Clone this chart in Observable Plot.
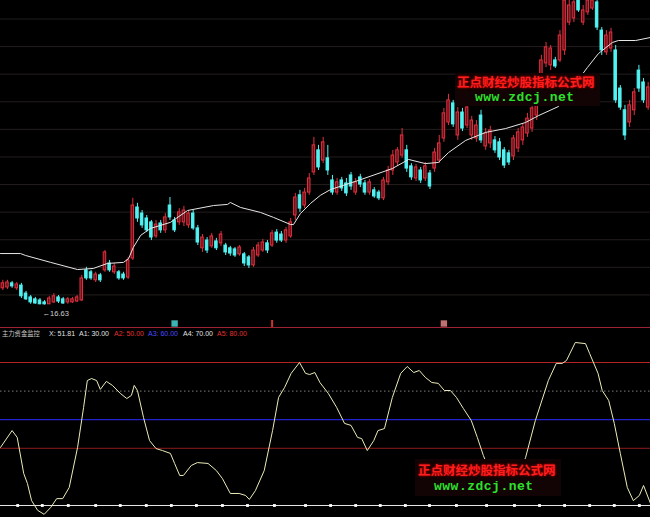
<!DOCTYPE html>
<html lang="zh">
<head>
<meta charset="utf-8">
<title>主力资金监控</title>
<script src="https://cdn.jsdelivr.net/npm/d3@7"></script>
<script src="https://cdn.jsdelivr.net/npm/@observablehq/plot@0.6"></script>
<style>
html,body{margin:0;padding:0;background:#000;overflow:hidden;}
#wrap{position:relative;width:650px;height:517px;background:#000;overflow:hidden;}
#top{position:absolute;left:0;top:0;width:650px;height:327px;}
#bot{position:absolute;left:0;top:327px;width:650px;height:190px;}
#divider{position:absolute;left:0;top:327px;width:650px;height:1px;background:#9c2234;}
.leg{position:absolute;top:329px;height:9px;line-height:9px;font-family:"Liberation Sans","DejaVu Sans",sans-serif;font-size:7px;white-space:nowrap;}
.leg.cjk{font-family:"Noto Sans CJK SC",sans-serif;font-size:6.3px;}
.wmbox{position:absolute;background:#120404;}
.wmred{position:absolute;font-family:"Noto Sans CJK SC",sans-serif;font-weight:700;font-size:12.5px;line-height:14px;height:14px;color:#ff1e1e;text-shadow:0 0 2px #b00000,0 0 3px #700000;white-space:nowrap;}
.wmgreen{position:absolute;font-family:"Liberation Mono","DejaVu Sans Mono",monospace;font-weight:700;font-size:13px;letter-spacing:0.5px;line-height:11px;height:11px;color:#2ee02e;white-space:nowrap;}
svg{display:block;}
</style>
</head>
<body>
<div id="wrap">
  <div id="top"></div>
  <div id="bot"></div>
  <div id="divider"></div>
</div>
<script>
// ---------- data ----------
const open = [17.24,17.27,17.42,17.24,17.34,17.05,16.91,16.84,16.80,16.73,
16.66,16.73,16.91,16.84,16.73,16.73,16.76,16.80,17.89,17.82,
17.53,17.71,17.89,18.14,17.82,17.82,17.74,17.63,18.32,20.17,
19.95,19.77,19.63,19.12,19.59,19.34,20.24,19.70,19.63,19.63,
19.52,19.95,19.41,18.69,18.97,18.76,18.94,18.87,18.79,18.69,
18.65,18.47,18.47,18.36,18.07,18.43,18.61,18.87,18.79,19.26,
19.19,18.97,19.12,19.88,20.61,20.24,20.71,21.44,22.24,21.87,
21.95,21.15,20.71,21.15,21.04,21.33,20.71,21.26,21.04,20.71,
20.79,20.71,20.50,21.08,21.51,21.80,22.05,22.24,21.66,21.22,
21.51,21.22,21.40,21.58,21.87,22.67,23.25,23.94,22.78,23.61,
23.14,22.78,22.67,23.50,22.38,22.49,22.60,22.53,22.24,22.13,
22.02,22.31,22.60,22.85,23.03,23.50,24.23,25.39,25.32,25.50,
25.50,25.86,26.87,27.02,27.67,26.87,27.24,27.38,27.60,26.58,
25.79,25.93,25.86,24.48,23.69,23.25,23.69,25.13,24.70,23.79];
const high = [17.53,17.53,17.49,17.45,17.42,17.13,16.98,16.91,16.87,16.80,
16.95,17.05,16.98,16.91,16.91,16.91,16.98,17.71,18.00,17.89,
17.82,17.78,18.61,18.25,18.14,17.89,17.82,18.36,20.50,20.32,
20.06,19.88,19.70,19.70,19.70,19.95,20.53,19.81,20.13,20.21,
20.06,20.06,19.52,19.19,19.08,19.23,19.05,19.30,18.87,18.76,
18.72,18.79,18.54,18.43,18.72,18.90,19.01,18.97,19.34,19.37,
19.30,19.45,19.77,20.68,20.79,20.86,21.40,22.71,22.42,22.71,
22.42,21.33,21.22,21.26,21.22,21.44,21.22,21.37,21.15,21.18,
20.89,20.79,21.26,21.66,22.24,22.34,23.03,22.42,21.76,21.73,
21.62,21.80,21.51,22.31,22.78,23.76,24.27,24.05,23.79,23.76,
23.97,23.47,23.32,23.69,23.03,23.11,22.74,22.67,22.34,22.24,
22.78,23.03,23.21,23.58,23.94,24.41,25.68,26.15,26.04,25.61,
26.58,27.85,27.85,27.85,27.78,27.49,27.85,27.85,27.78,26.69,
26.58,26.66,26.04,24.59,23.87,24.05,24.48,25.32,24.84,24.70];
const low = [17.16,17.20,17.24,17.16,16.87,16.80,16.66,16.66,16.65,16.63,
16.65,16.69,16.69,16.66,16.66,16.69,16.73,16.76,17.53,17.53,
17.45,17.45,17.82,17.82,17.74,17.53,17.53,17.56,18.25,19.63,
19.41,19.26,18.97,19.05,19.23,19.23,19.70,19.26,19.52,19.48,
19.41,19.34,18.79,18.54,18.50,18.69,18.61,18.76,18.43,18.40,
18.36,18.40,18.03,17.96,18.00,18.36,18.54,18.50,18.72,18.87,
18.90,18.87,19.05,19.70,19.99,20.13,20.61,21.33,21.51,21.76,
21.33,20.61,20.61,20.75,20.57,20.79,20.61,20.89,20.61,20.61,
20.50,20.42,20.42,20.97,21.33,21.66,21.95,21.44,21.15,21.11,
21.04,21.11,20.82,21.44,21.76,22.53,23.14,23.07,22.60,22.92,
23.03,22.60,22.53,22.49,22.24,22.31,22.13,21.87,21.58,21.69,
21.87,22.16,22.42,22.71,22.89,23.32,24.12,25.24,25.13,25.21,
25.42,25.68,26.76,26.87,27.24,26.76,27.13,27.31,26.58,25.68,
25.68,25.79,23.94,23.69,22.60,23.07,23.50,24.34,23.94,23.69];
const close = [17.42,17.45,17.31,17.38,16.95,16.84,16.73,16.69,16.66,16.66,
16.87,16.95,16.76,16.69,16.84,16.84,16.91,17.60,17.60,17.60,
17.74,17.53,18.54,17.89,18.03,17.60,17.60,18.25,20.24,19.77,
19.52,19.34,19.08,19.55,19.34,19.81,19.81,19.34,19.99,20.06,
19.95,19.41,18.90,19.08,18.61,19.12,18.69,19.19,18.54,18.50,
18.43,18.72,18.14,18.07,18.61,18.79,18.90,18.61,19.23,18.97,
18.97,19.34,19.63,20.53,20.13,20.71,21.22,22.42,21.62,22.53,
21.51,20.71,21.08,20.86,20.68,20.93,21.08,21.00,20.71,21.08,
20.57,20.50,21.15,21.51,22.05,22.24,22.78,21.58,21.26,21.62,
21.15,21.66,20.93,22.16,22.49,23.58,24.05,23.18,23.61,23.03,
23.79,23.32,23.14,22.60,22.85,22.96,22.24,21.98,21.69,21.80,
22.67,22.89,23.07,23.39,23.76,24.23,25.50,25.97,25.93,25.28,
26.40,27.67,27.49,27.60,27.31,27.31,27.67,27.67,26.69,25.86,
26.40,26.51,24.05,23.79,22.78,23.87,24.34,24.48,24.05,24.52];

const gridPrices = [17,18,19,20,21,22,23,24,25,26,27];

// moving-average line (bar index, price)
const maIndex = [-0.5,3.8,4.9,10.3,16.1,19.5,22.5,26.0,27.1,28.1,29.7,31.8,36.1,39.8,45.4,48.4,49.0,51.2,55.5,58.3,62.0,62.6,64.1,66.3,68.4,70.6,76.6,83.9,87.4,91.0,93.8,96.0,99.7,104.0,108.3,112.6,115.4,119.7,125.9,128.3,131.3,132.6,136.3,139.5];
const maValue = [18.50,18.50,18.43,18.18,17.92,17.96,18.14,18.18,18.32,18.72,19.16,19.41,19.63,20.06,20.24,20.28,20.35,20.17,19.99,19.81,19.55,19.55,19.95,20.32,20.61,20.82,21.15,21.58,21.91,21.76,21.80,22.16,22.60,22.89,23.03,23.25,23.50,23.83,25.24,25.75,26.15,26.22,26.22,26.33];

// oscillator X (bar index, value)
const oscIndex = [-0.5,2.0,3.1,4.5,5.3,6.2,7.5,8.9,10.3,11.6,12.9,14.3,16.1,17.4,18.2,19.1,20.2,21.0,22.3,23.6,25.3,26.7,27.7,28.3,29.0,30.3,31.6,33.0,34.4,36.1,37.0,38.1,38.9,40.6,41.9,44.2,46.0,47.3,49.0,50.9,52.3,53.1,54.4,56.3,58.1,59.4,60.7,62.1,63.9,65.2,66.1,67.2,68.3,70.1,71.9,73.6,75.0,76.4,77.3,78.5,79.9,80.8,82.2,83.9,85.7,87.1,88.5,89.7,91.0,92.4,93.8,95.1,96.4,97.7,99.2,100.9,102.2,103.5,105.0,107.2,109.3,111.1,112.6,114.7,117.5,119.2,120.5,121.4,123.3,125.5,126.4,128.2,129.1,130.5,131.7,133.0,134.5,135.8,137.1,138.0,139.5];
const oscValue = [50.3,56.2,53.8,41.2,37.7,31.7,28.3,26.9,29.3,32.4,32.4,36.3,50.3,64.3,73.7,74.4,73.7,70.6,73.4,72.0,69.2,67.4,68.5,72.0,70.2,60.8,52.7,49.9,49.2,48.2,44.7,40.5,40.5,44.0,45.0,44.7,42.2,39.4,34.2,34.2,33.5,32.1,35.2,42.2,56.2,67.8,71.3,76.2,80.0,76.2,75.8,76.5,73.0,69.2,64.3,58.7,58.0,53.8,53.4,49.2,52.7,56.2,56.9,67.8,76.2,78.6,76.5,77.2,74.8,73.0,72.7,70.2,70.2,67.8,63.9,59.7,53.8,47.5,41.5,38.0,37.0,40.5,46.8,59.7,73.7,79.7,79.7,80.7,87.0,86.6,83.1,76.2,70.2,66.7,58.7,48.2,36.3,31.7,33.5,37.0,30.7];

const levelNames = ["A1","A2","A3","A4","A5"];
const levelValues = [30,50,60,70,80];
const dotIndex = [3.2,8.5,14.1,20.0,25.3,30.9,36.3,41.7,47.3,52.7,58.5,65.2,70.6,76.0,81.3,86.7,91.9,97.7,104.2,110.2,115.6,121.0,126.4,131.7,137.1];
const markerIndex = [37,58,95];
const markerKind = ["cyan","tick","red"];
const indicatorName = "主力资金监控";
const lastX = 51.81;
const watermarkCN = "正点财经炒股指标公式网";
const watermarkURL = "www.zdcj.net";

// ---------- styles ----------
const RED = "#e0303e", RED_FILL = "#6a1019", CYAN = "#52f2f2";
const levelStyle = {30: "#e6e6e6", 50: "#8e1c1c", 60: "#2b2bff", 70: "#7c7c7c", 80: "#b42222"};
const legendColor = {A1: "#e0e0e0", A2: "#e33030", A3: "#4a4aff", A4: "#e0e0e0", A5: "#e33030"};

// ---------- build ----------
const bars = open.map((o, i) => ({i, o, h: high[i], l: low[i], c: close[i], up: close[i] >= o}));
const xDom = [-0.5, open.length - 0.5];
const ma = maIndex.map((i, k) => ({i, v: maValue[k]}));
const osc = oscIndex.map((i, k) => ({i, v: oscValue[k]}));
const levels = levelValues.map((v, k) => ({v, name: levelNames[k]}));
const lowBar = bars[d3.minIndex(low)];
const markers = markerIndex.map((i, k) => ({i, kind: markerKind[k]}));

const topPlot = Plot.plot({
  width: 650, height: 327, margin: 0,
  style: {background: "transparent"},
  x: {domain: xDom, axis: null},
  y: {domain: [15.82, 27.67], axis: null},
  color: {type: "identity"},
  marks: [
    Plot.ruleY(gridPrices, {stroke: "#241d1d", strokeWidth: 1}),
    Plot.ruleX(bars, {x: "i", y1: "l", y2: "h", stroke: d => d.up ? RED : CYAN, strokeWidth: 1, clip: true}),
    Plot.rect(bars, {
      x1: d => d.i - 0.27, x2: d => d.i + 0.27,
      y1: d => Math.min(d.o, d.c), y2: d => Math.max(d.o, d.c),
      fill: d => d.up ? RED_FILL : CYAN, stroke: d => d.up ? RED : CYAN, strokeWidth: 1, clip: true
    }),
    Plot.line(ma, {x: "i", y: "v", stroke: "#e6e6e6", strokeWidth: 1, clip: true}),
    Plot.text([lowBar], {x: "i", y: "l", text: d => "←" + d.l.toFixed(2), textAnchor: "start", dx: -2, dy: 8,
      fill: "#d0d0d0", fontSize: 7.5, fontFamily: "Liberation Sans, DejaVu Sans, sans-serif"}),
    Plot.dot(markers.filter(d => d.kind !== "tick"), {x: "i", frameAnchor: "bottom", dy: -4, symbol: "square", r: 3.6,
      fill: d => d.kind === "cyan" ? "#3cb4b4" : "#c07070"}),
    Plot.tickX(markers.filter(d => d.kind === "tick"), {x: "i", stroke: "#d03030", strokeWidth: 2, insetTop: 320})
  ]
});
document.getElementById("top").appendChild(topPlot);

const botPlot = Plot.plot({
  width: 650, height: 190, margin: 0,
  style: {background: "transparent"},
  x: {domain: xDom, axis: null},
  y: {domain: [25.80, 92.24], axis: null},
  color: {type: "identity"},
  marks: [
    Plot.ruleY(levels.filter(d => d.v !== 70), {y: "v", stroke: d => levelStyle[d.v], strokeWidth: 1}),
    Plot.ruleY(levels.filter(d => d.v === 70), {y: "v", stroke: levelStyle[70], strokeWidth: 1, strokeDasharray: "1.5,2.5"}),
    Plot.dot(dotIndex, {x: d => d, y: levelValues[0], symbol: "square", r: 1.6, fill: "#ffffff"}),
    Plot.line(osc, {x: "i", y: "v", stroke: "#ecebb8", strokeWidth: 1, clip: true})
  ]
});
document.getElementById("bot").appendChild(botPlot);

// ---------- legend of the indicator ----------
const wrap = document.getElementById("wrap");
const legendItems = [
  {text: indicatorName, color: "#c8c8c8", left: 2, cjk: true},
  {text: "X: " + lastX.toFixed(2), color: "#e0e0e0", left: 49}
].concat(levels.map((d, k) => ({text: d.name + ": " + d.v.toFixed(2), color: legendColor[d.name], left: [79, 114, 148, 183, 217][k]})));
for (const it of legendItems) {
  const s = document.createElement("div");
  s.className = "leg" + (it.cjk ? " cjk" : "");
  s.style.left = it.left + "px";
  s.style.color = it.color;
  s.textContent = it.text;
  wrap.appendChild(s);
}

// ---------- watermarks ----------
function watermark(box, redPos, greenPos) {
  const b = document.createElement("div");
  b.className = "wmbox";
  Object.assign(b.style, {left: box[0] + "px", top: box[1] + "px", width: box[2] + "px", height: box[3] + "px"});
  wrap.appendChild(b);
  const r = document.createElement("div");
  r.className = "wmred";
  Object.assign(r.style, {left: redPos[0] + "px", top: redPos[1] + "px"});
  r.textContent = watermarkCN;
  wrap.appendChild(r);
  const g = document.createElement("div");
  g.className = "wmgreen";
  Object.assign(g.style, {left: greenPos[0] + "px", top: greenPos[1] + "px"});
  g.textContent = watermarkURL;
  wrap.appendChild(g);
}
watermark([455, 73, 145, 33], [457, 75], [475, 92]);
watermark([415, 459, 146, 37], [418, 463], [434, 481]);
</script>
</body>
</html>
